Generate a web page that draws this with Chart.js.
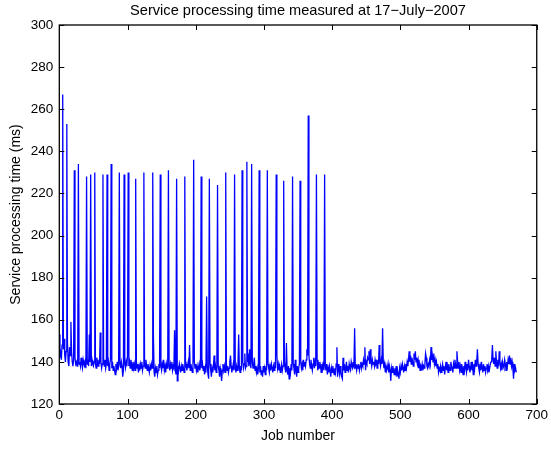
<!DOCTYPE html>
<html>
<head>
<meta charset="utf-8">
<script src="https://cdn.jsdelivr.net/npm/chart.js@4.4.1/dist/chart.umd.min.js"></script>
<style>
html,body{margin:0;padding:0;background:#fff;}
#wrap{width:551px;height:449px;}
</style>
</head>
<body>
<div id="wrap"><canvas id="c" width="551" height="449"></canvas></div>
<script>
const chartTitle = "Service processing time measured at 17\u2212July\u22122007";
const xLabel = "Job number";
const yLabel = "Service processing time (ms)";
const xTicks = [0, 100, 200, 300, 400, 500, 600, 700];
const yTicks = [120, 140, 160, 180, 200, 220, 240, 260, 280, 300];

const processingTime = [
153,142,144,141,148,267,146,151,143,140,
145,253,149,140,138,147,143,159,145,140,
138,141,231,142,139,140,138,141,234,139,
140,138,142,139,137,141,139,138,140,137,
228,139,141,138,153,140,229,138,141,139,
138,140,230,139,137,142,140,138,141,139,
154,140,137,139,229,140,138,141,137,139,
229,138,140,136,139,141,234,137,140,136,
138,136,134,139,137,140,136,138,230,139,
137,140,138,133,136,229,139,137,140,138,
143,230,138,140,137,141,139,136,140,137,
139,136,227,140,137,139,135,138,136,139,
137,140,136,138,230,139,137,141,138,136,
139,137,135,138,136,139,137,230,152,135,
133,137,135,138,134,136,139,137,229,138,
136,139,137,141,136,138,135,139,137,140,
231,138,136,139,137,140,136,138,137,155,
137,134,227,131,138,136,139,137,135,138,
136,139,137,135,228,138,139,136,138,140,
137,148,136,139,137,135,138,236,140,137,
139,136,138,135,137,139,136,138,228,137,
139,136,138,134,137,135,171,138,134,132,
227,139,136,133,137,135,138,143,136,138,
135,137,224,138,136,133,137,135,131,136,
139,136,138,135,230,139,136,138,135,137,
140,143,138,135,137,139,136,229,137,135,
138,136,139,153,137,135,138,136,231,140,
137,139,144,137,138,235,140,142,138,146,
139,137,234,140,137,139,142,136,138,135,
137,134,137,231,135,138,134,136,133,138,
135,137,134,138,136,231,139,137,135,138,
136,139,137,135,138,136,140,137,229,143,
137,139,136,138,135,137,139,136,138,226,
140,137,135,149,136,134,138,132,137,135,
139,136,228,139,137,134,141,136,133,138,
135,137,139,226,140,137,139,136,141,138,
140,138,141,146,143,257,143,139,137,141,
138,136,139,142,137,140,138,229,141,136,
139,137,140,138,135,139,137,140,136,229,
138,136,139,134,137,135,138,136,133,137,
135,138,136,134,137,135,139,147,133,139,
136,134,138,135,133,132,142,136,139,135,
137,140,136,138,135,139,137,136,140,138,
137,139,138,156,137,139,136,138,137,139,
136,138,140,137,139,138,141,139,147,136,
140,139,142,141,145,139,146,140,138,141,
139,140,138,141,139,140,137,141,139,148,
140,138,141,139,156,140,137,139,135,138,
136,137,139,135,138,136,131,137,135,138,
136,134,137,135,138,133,136,134,132,137,
135,138,136,139,137,135,138,136,139,137,
140,138,141,145,140,143,139,142,140,138,
144,141,145,140,142,139,141,137,139,136,
138,137,139,136,138,137,139,144,142,138,
137,139,138,141,139,147,141,143,140,144,
139,141,138,140,137,139,135,137,136,138,
135,137,139,136,138,134,137,140,136,138,
135,139,137,136,140,138,137,135,139,137,
141,139,137,145,140,137,140,136,138,135,
139,137,134,138,136,140,137,135,139,136,
141,138,135,137,140,136,138,134,139,137,
141,138,140,146,139,137,135,138,136,140,
137,135,139,136,138,135,137,139,136,138,
135,137,139,140,141,148,141,139,142,138,
145,140,137,141,138,145,140,137,139,136,
140,138,137,141,139,136,140,138,141,139,
143,139,142,138,140,137,132,139,136,137,135
];

const points = processingTime.map((v, i) => ({x: i, y: v}));
const FONT = "'Liberation Sans', Arial, Helvetica, sans-serif";

const boxPlugin = {
  id: 'matlabBox',
  afterDraw(chart) {
    const {ctx, chartArea: a, scales} = chart;
    ctx.save();
    ctx.strokeStyle = '#000';
    ctx.lineWidth = 1;
    const L = 5;
    ctx.beginPath();
    scales.x.ticks.forEach(t => {
      const px = Math.round(scales.x.getPixelForValue(t.value)) + 0.5;
      ctx.moveTo(px, a.bottom); ctx.lineTo(px, a.bottom - L);
      ctx.moveTo(px, a.top); ctx.lineTo(px, a.top + L);
    });
    scales.y.ticks.forEach(t => {
      const py = Math.round(scales.y.getPixelForValue(t.value)) + 0.5;
      ctx.moveTo(a.left, py); ctx.lineTo(a.left + L, py);
      ctx.moveTo(a.right, py); ctx.lineTo(a.right - L, py);
    });
    ctx.stroke();
    ctx.lineWidth = 1.3;
    ctx.strokeRect(a.left, a.top, a.right - a.left, a.bottom - a.top);
    // title centred over the axes, as MATLAB does
    ctx.fillStyle = '#000';
    ctx.font = "14.6px " + FONT;
    ctx.textAlign = 'center';
    ctx.textBaseline = 'middle';
    ctx.fillText(chartTitle, (a.left + a.right) / 2, 10.5);
    ctx.restore();
  }
};

new Chart(document.getElementById('c'), {
  type: 'line',
  data: {
    datasets: [{
      data: points,
      borderColor: '#0000ff',
      borderWidth: 1.3,
      pointRadius: 0,
      tension: 0,
      fill: false
    }]
  },
  options: {
    responsive: false,
    animation: false,
    events: [],
    layout: {padding: {left: 0, right: 13.5, top: 25, bottom: 0}},
    plugins: {
      legend: {display: false},
      tooltip: {enabled: false},
      title: {display: false}
    },
    scales: {
      x: {
        type: 'linear',
        min: xTicks[0],
        max: xTicks[xTicks.length - 1],
        afterFit(s) { s.height = 45; },
        afterBuildTicks(s) { s.ticks = xTicks.map(v => ({value: v})); },
        grid: {display: false, drawTicks: false},
        border: {display: false},
        ticks: {color: '#000', font: {family: FONT, size: 13.5}, padding: 3, maxRotation: 0, autoSkip: false},
        title: {display: true, text: xLabel, color: '#000', font: {family: FONT, size: 14}, padding: {top: 0, bottom: 4.5}}
      },
      y: {
        type: 'linear',
        min: yTicks[0],
        max: yTicks[yTicks.length - 1],
        afterFit(s) { s.width = 59.3; },
        afterBuildTicks(s) { s.ticks = yTicks.map(v => ({value: v})); },
        grid: {display: false, drawTicks: false},
        border: {display: false},
        ticks: {color: '#000', font: {family: FONT, size: 13.5}, padding: 6, autoSkip: false},
        title: {display: true, text: yLabel, color: '#000', font: {family: FONT, size: 14}, padding: {top: 8, bottom: 0}}
      }
    }
  },
  plugins: [boxPlugin]
});
</script>
</body>
</html>
